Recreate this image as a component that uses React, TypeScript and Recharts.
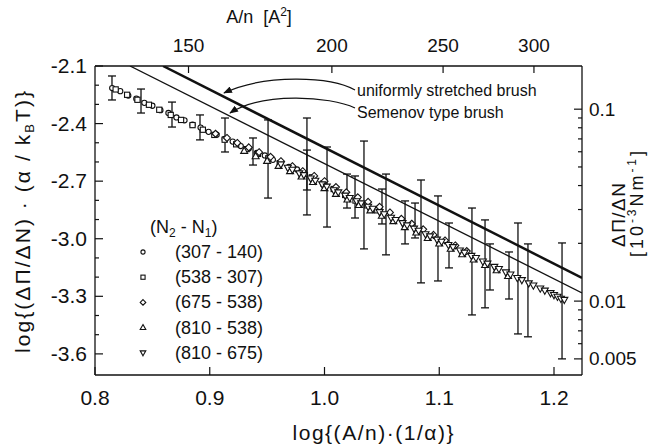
import React from "react";
import { ScatterChart, Scatter, XAxis, YAxis, ErrorBar } from "recharts";

const FONT = "'Liberation Sans', Arial, Helvetica, sans-serif";
const INK = "#111";

// frame ranges
const X_DOMAIN = [0.8, 1.2244];
const Y_DOMAIN = [-3.71, -2.1];

const bottomTicks = [0.8, 0.9, 1.0, 1.1, 1.2];
const leftTicks = [-2.1, -2.2, -2.3, -2.4, -2.5, -2.6, -2.7, -2.8, -2.9, -3.0, -3.1, -3.2, -3.3, -3.4, -3.5, -3.6];
const leftLabels = [-2.1, -2.4, -2.7, -3.0, -3.3, -3.6];

// top axis: A/n [A^2]; x = log10(A/n) - log10(alpha)
const areaTicks = [150, 200, 250, 300];
const LOG_ALPHA = 1.2946;

// right axis: dPi/dN [10^-3 N/m]; y = log10(value) + shift
const dpdnTicks = [0.1, 0.09, 0.08, 0.07, 0.06, 0.05, 0.04, 0.03, 0.02, 0.01, 0.009, 0.008, 0.007, 0.006, 0.005];
const dpdnLabels = [0.1, 0.01, 0.005];
const DPDN_SHIFT = -1.325;

// measured points, one pair of arrays per (N2 - N1) combination
const s307_140X = [0.815, 0.822, 0.829, 0.836, 0.843, 0.85, 0.857, 0.864, 0.871, 0.878, 0.885, 0.892, 0.899, 0.906, 0.913, 0.92, 0.927, 0.934, 0.941, 0.948, 0.955, 0.962, 0.969, 0.976, 0.983];
const s307_140Y = [-2.215, -2.231, -2.254, -2.27, -2.292, -2.307, -2.33, -2.345, -2.368, -2.383, -2.406, -2.421, -2.443, -2.458, -2.48, -2.494, -2.517, -2.53, -2.553, -2.566, -2.589, -2.602, -2.626, -2.639, -2.663];

const s538_307X = [0.818, 0.828, 0.837, 0.847, 0.856, 0.866, 0.875, 0.885, 0.894, 0.904, 0.913, 0.923, 0.932, 0.942, 0.951, 0.961, 0.97, 0.98, 0.989, 0.999, 1.008, 1.018, 1.027, 1.037, 1.046];
const s538_307Y = [-2.222, -2.25, -2.276, -2.302, -2.328, -2.355, -2.381, -2.408, -2.432, -2.459, -2.484, -2.508, -2.533, -2.558, -2.581, -2.606, -2.63, -2.656, -2.68, -2.712, -2.741, -2.772, -2.801, -2.826, -2.852];

const s675_538X = [0.905, 0.915, 0.924, 0.934, 0.943, 0.953, 0.962, 0.972, 0.981, 0.991, 1.0, 1.01, 1.019, 1.029, 1.038, 1.048, 1.057, 1.067, 1.076, 1.086, 1.095, 1.105, 1.114, 1.124];
const s675_538Y = [-2.453, -2.475, -2.501, -2.524, -2.549, -2.573, -2.596, -2.622, -2.648, -2.673, -2.7, -2.731, -2.758, -2.784, -2.808, -2.834, -2.863, -2.896, -2.922, -2.951, -2.98, -3.009, -3.035, -3.064];

const s810_538X = [0.93, 0.94, 0.95, 0.96, 0.97, 0.98, 0.99, 1.0, 1.01, 1.02, 1.03, 1.04, 1.05, 1.06, 1.07, 1.08, 1.09, 1.1, 1.11, 1.12, 1.13, 1.14, 1.15, 1.16];
const s810_538Y = [-2.543, -2.571, -2.595, -2.621, -2.648, -2.676, -2.705, -2.737, -2.767, -2.796, -2.825, -2.853, -2.881, -2.909, -2.94, -2.968, -2.997, -3.025, -3.053, -3.081, -3.109, -3.137, -3.165, -3.195];

const s810_675X = [0.962, 0.968, 0.972, 0.978, 0.982, 0.988, 0.992, 0.998, 1.002, 1.008, 1.012, 1.018, 1.022, 1.028, 1.032, 1.038, 1.042, 1.048, 1.052, 1.058, 1.062, 1.068, 1.072, 1.078, 1.082, 1.088, 1.092, 1.098, 1.102, 1.108, 1.112, 1.118, 1.122, 1.128, 1.132, 1.138, 1.142, 1.148, 1.152, 1.158, 1.162, 1.168, 1.172, 1.178, 1.182, 1.188, 1.192, 1.197, 1.2, 1.203, 1.206, 1.209];
const s810_675Y = [-2.612, -2.63, -2.64, -2.659, -2.668, -2.686, -2.697, -2.716, -2.728, -2.747, -2.758, -2.775, -2.787, -2.804, -2.815, -2.833, -2.843, -2.861, -2.872, -2.89, -2.902, -2.918, -2.93, -2.947, -2.958, -2.976, -2.987, -3.004, -3.015, -3.032, -3.043, -3.061, -3.072, -3.089, -3.1, -3.118, -3.129, -3.146, -3.157, -3.175, -3.186, -3.204, -3.215, -3.232, -3.243, -3.259, -3.27, -3.283, -3.293, -3.302, -3.312, -3.318];

// error bars: position, upper end, lower end
const errX = [0.8148, 0.8401, 0.8671, 0.8915, 0.9133, 0.9377, 0.9508, 0.9847, 0.9847, 1.0022, 1.0196, 1.0266, 1.0344, 1.0501, 1.0536, 1.0702, 1.0789, 1.0841, 1.0989, 1.1085, 1.1285, 1.1399, 1.1442, 1.1608, 1.1686, 1.1773, 1.207];
const errTop = [-2.152, -2.22, -2.288, -2.355, -2.371, -2.475, -2.381, -2.371, -2.538, -2.522, -2.663, -2.673, -2.491, -2.741, -2.663, -2.803, -2.814, -2.694, -2.777, -2.918, -2.84, -2.902, -3.027, -3.069, -2.918, -3.027, -3.022];
const errBottom = [-2.277, -2.345, -2.418, -2.485, -2.548, -2.616, -2.788, -2.876, -2.746, -2.939, -2.84, -2.892, -3.053, -2.923, -3.084, -3.027, -2.996, -3.23, -3.22, -3.152, -3.397, -3.36, -3.267, -3.314, -3.496, -3.511, -3.626];

// model lines
const uniformX = [0.8593, 1.2244];
const uniformY = [-2.1, -3.204];
const semenovX = [0.8305, 1.2244];
const semenovY = [-2.1, -3.282];

type Kind = "circle" | "square" | "diamond" | "up" | "down";

const series: { name: string; kind: Kind; xs: number[]; ys: number[] }[] = [
  { name: "(307 - 140)", kind: "circle", xs: s307_140X, ys: s307_140Y },
  { name: "(538 - 307)", kind: "square", xs: s538_307X, ys: s538_307Y },
  { name: "(675 - 538)", kind: "diamond", xs: s675_538X, ys: s675_538Y },
  { name: "(810 - 538)", kind: "up", xs: s810_538X, ys: s810_538Y },
  { name: "(810 - 675)", kind: "down", xs: s810_675X, ys: s810_675Y },
];

const pts = (xs: number[], ys: number[]) => xs.map((x, i) => ({ x, y: ys[i] }));

const errData = errX.map((x, i) => ({ x, y: errTop[i], err: [errTop[i] - errBottom[i], 0] }));

function Marker({ kind, cx, cy, s = 1 }: { kind: Kind; cx: number; cy: number; s?: number }) {
  const st = { fill: "#fff", stroke: INK, strokeWidth: 1.1 };
  switch (kind) {
    case "circle":
      return <circle cx={cx} cy={cy} r={2.6 * s} {...st} />;
    case "square":
      return <rect x={cx - 2.6 * s} y={cy - 2.6 * s} width={5.2 * s} height={5.2 * s} {...st} />;
    case "diamond":
      return <path d={`M${cx} ${cy - 3.5 * s}L${cx + 3.5 * s} ${cy}L${cx} ${cy + 3.5 * s}L${cx - 3.5 * s} ${cy}Z`} {...st} />;
    case "up":
      return <path d={`M${cx} ${cy - 3.8 * s}L${cx + 3.5 * s} ${cy + 2.4 * s}L${cx - 3.5 * s} ${cy + 2.4 * s}Z`} {...st} />;
    default:
      return <path d={`M${cx} ${cy + 3.8 * s}L${cx + 3.5 * s} ${cy - 2.4 * s}L${cx - 3.5 * s} ${cy - 2.4 * s}Z`} {...st} />;
  }
}

const shapeOf = (kind: Kind) => (p: any) => (p.cx == null ? <g /> : <Marker kind={kind} cx={p.cx} cy={p.cy} />);
const noShape = () => <g />;

const same = (a: number, b: number) => Math.abs(a - b) < 1e-6;

const BottomTick = (p: any) => (
  <g>
    <line x1={p.x} y1={p.y} x2={p.x} y2={p.y - 8} stroke={INK} strokeWidth={1.2} />
    <text x={p.x} y={p.y + 30} textAnchor="middle" fontSize={21} fontFamily={FONT} fill={INK}>
      {Number(p.payload.value).toFixed(1)}
    </text>
  </g>
);

const TopTick = (p: any) => {
  const v = Math.round(Math.pow(10, p.payload.value + LOG_ALPHA));
  return (
    <g>
      <line x1={p.x} y1={p.y} x2={p.x} y2={p.y + 7} stroke={INK} strokeWidth={1.2} />
      <text x={p.x} y={p.y - 14} textAnchor="middle" fontSize={19} fontFamily={FONT} fill={INK}>
        {v}
      </text>
    </g>
  );
};

const LeftTick = (p: any) => {
  const v = p.payload.value;
  const major = leftLabels.some((l) => same(l, v));
  return (
    <g>
      <line x1={p.x} y1={p.y} x2={p.x + (major ? 8 : 4)} y2={p.y} stroke={INK} strokeWidth={1.2} />
      {major && (
        <text x={p.x - 8} y={p.y + 7} textAnchor="end" fontSize={21} fontFamily={FONT} fill={INK}>
          {v.toFixed(1)}
        </text>
      )}
    </g>
  );
};

const RightTick = (p: any) => {
  const v = p.payload.value;
  const t = dpdnTicks.find((d) => same(Math.log10(d) + DPDN_SHIFT, v));
  const label = dpdnLabels.find((l) => t != null && Math.abs(l - t) < 1e-9);
  return (
    <g>
      <line x1={p.x} y1={p.y} x2={p.x - (label ? 8 : 4)} y2={p.y} stroke={INK} strokeWidth={1.2} />
      {label != null && (
        <text x={p.x + 7} y={p.y + 6.5} textAnchor="start" fontSize={19} fontFamily={FONT} fill={INK}>
          {String(label)}
        </text>
      )}
    </g>
  );
};

const AXIS = { stroke: INK, strokeWidth: 1.3 };

export default function App() {
  return (
    <div style={{ position: "absolute", left: 0, top: 0, width: 655, height: 445, background: "#fff" }}>
      <ScatterChart width={655} height={445} margin={{ top: 10, right: 10, bottom: 10, left: 10 }}>
        <XAxis
          dataKey="x"
          type="number"
          domain={X_DOMAIN}
          allowDataOverflow
          ticks={bottomTicks}
          interval={0}
          height={60}
          tickSize={0}
          tickMargin={0}
          tickLine={false}
          axisLine={AXIS}
          tick={BottomTick}
        />
        <XAxis
          xAxisId="top"
          orientation="top"
          dataKey="x"
          type="number"
          domain={X_DOMAIN}
          allowDataOverflow
          ticks={areaTicks.map((a) => Math.log10(a) - LOG_ALPHA)}
          interval={0}
          height={56}
          tickSize={0}
          tickMargin={0}
          tickLine={false}
          axisLine={AXIS}
          tick={TopTick}
        />
        <YAxis
          dataKey="y"
          type="number"
          domain={Y_DOMAIN}
          allowDataOverflow
          ticks={leftTicks}
          interval={0}
          width={85}
          tickSize={0}
          tickMargin={0}
          tickLine={false}
          axisLine={AXIS}
          tick={LeftTick}
        />
        <YAxis
          yAxisId="right"
          orientation="right"
          dataKey="y"
          type="number"
          domain={Y_DOMAIN}
          allowDataOverflow
          ticks={dpdnTicks.map((d) => Math.log10(d) + DPDN_SHIFT)}
          interval={0}
          width={63}
          tickSize={0}
          tickMargin={0}
          tickLine={false}
          axisLine={AXIS}
          tick={RightTick}
        />

        <Scatter
          data={pts(uniformX, uniformY)}
          shape={noShape}
          line={{ stroke: INK, strokeWidth: 2.5 }}
          lineType="joint"
          isAnimationActive={false}
        />
        <Scatter
          data={pts(semenovX, semenovY)}
          shape={noShape}
          line={{ stroke: INK, strokeWidth: 1.3 }}
          lineType="joint"
          isAnimationActive={false}
        />

        <Scatter data={errData} shape={noShape} isAnimationActive={false}>
          <ErrorBar dataKey="err" direction="y" width={4} stroke={INK} strokeWidth={1.3} isAnimationActive={false} />
        </Scatter>

        {series.map((s) => (
          <Scatter key={s.name} data={pts(s.xs, s.ys)} shape={shapeOf(s.kind)} isAnimationActive={false} />
        ))}
      </ScatterChart>

      <svg
        width={655}
        height={445}
        style={{ position: "absolute", left: 0, top: 0, pointerEvents: "none" }}
        fontFamily={FONT}
        fill={INK}
      >
        <defs>
          <marker id="head" viewBox="0 0 10 8" refX="9" refY="4" markerWidth="9" markerHeight="7" markerUnits="userSpaceOnUse" orient="auto">
            <path d="M0,0 L10,4 L0,8 Z" fill={INK} />
          </marker>
        </defs>

        {/* axis titles */}
        <text x={259} y={23} fontSize={18} textAnchor="middle" style={{ whiteSpace: "pre" }}>
          A/n  [A<tspan fontSize={12} dy={-7}>2</tspan>
          <tspan dy={7}>]</tspan>
        </text>
        <text transform="translate(30,222) rotate(-90)" fontSize={21} textAnchor="middle" textLength={262} lengthAdjust="spacing">
          log{"{"}(ΔΠ/ΔN) · (α / k<tspan fontSize={13} dy={4}>B</tspan>
          <tspan dy={-4}>T){"}"}</tspan>
        </text>
        <text x={373} y={440} fontSize={21} textAnchor="middle" textLength={161} lengthAdjust="spacing">
          log{"{"}(A/n)·(1/α){"}"}
        </text>
        <text transform="translate(625,215) rotate(-90)" fontSize={19} textAnchor="middle" textLength={64} lengthAdjust="spacing">
          ΔΠ/ΔN
        </text>
        <text transform="translate(643,204) rotate(-90)" fontSize={18} textAnchor="middle" textLength={106} lengthAdjust="spacing">
          [10<tspan fontSize={12} dy={-7}>-3</tspan>
          <tspan dy={7}>Nm</tspan>
          <tspan fontSize={12} dy={-7}>-1</tspan>
          <tspan dy={7}>]</tspan>
        </text>

        {/* model annotations */}
        <path d="M355 90 C330 76, 265 74, 224 93" fill="none" stroke={INK} strokeWidth={1.2} markerEnd="url(#head)" />
        <path d="M355 108 C330 96, 262 92, 230 113" fill="none" stroke={INK} strokeWidth={1.2} markerEnd="url(#head)" />
        <text x={357} y={96} fontSize={16}>uniformly stretched brush</text>
        <text x={357} y={118} fontSize={16}>Semenov type brush</text>

        {/* legend */}
        <text x={150} y={233} fontSize={18}>
          (N<tspan fontSize={12} dy={4}>2</tspan>
          <tspan dy={-4}> - N</tspan>
          <tspan fontSize={12} dy={4}>1</tspan>
          <tspan dy={-4}>)</tspan>
        </text>
        {series.map((s, i) => (
          <g key={s.name}>
            <Marker kind={s.kind} cx={143} cy={252 + i * 25.2} s={0.8} />
            <text x={175} y={252 + i * 25.2 + 6} fontSize={18}>
              {s.name}
            </text>
          </g>
        ))}
      </svg>
    </div>
  );
}
